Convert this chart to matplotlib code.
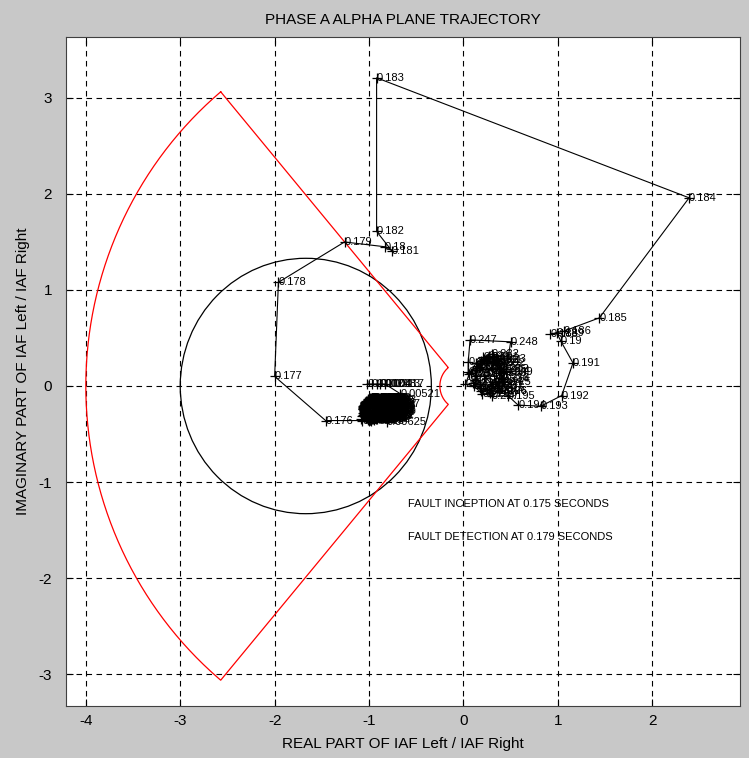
import numpy as np
import matplotlib
matplotlib.use('Agg')
import matplotlib.pyplot as plt
from matplotlib.patches import Circle

plt.rcParams['font.family'] = ['Liberation Sans', 'DejaVu Sans']
plt.rcParams['axes.unicode_minus'] = False

# sampling rate of the relay (samples per second), used for the point labels
fs = 960.0

# pre-fault samples (k = 0 .. 168)
pre_x = [-1.02, -0.97, -0.92, -0.88, -0.83, -0.67, -0.81,
         -0.97, -0.92, -0.88, -0.87, -0.90, -0.95, -1.01, -1.05, -1.05,
         -1.01, -0.96, -0.91, -0.87, -0.86, -0.89, -0.94, -1.00, -1.04,
         -1.06, -1.02, -0.97, -0.92, -0.89, -0.88, -0.92, -0.98, -1.03,
         -1.05, -1.04, -0.99, -0.94, -0.90, -0.87, -0.88, -0.93, -0.99,
         -1.04, -1.06, -1.03, -0.98, -0.93, -0.89, -0.89, -0.94, -1.00,
         -1.03, -1.02, -0.98, -0.93, -0.88, -0.86, -0.87, -0.91, -0.97,
         -1.02, -1.06, -1.05, -1.01, -0.96, -0.91, -0.89, -0.90, -0.95,
         -1.00, -1.02, -0.99, -0.95, -0.91, -0.88, -0.88, -0.92, -0.98,
         -1.03, -1.05, -1.04, -1.00, -0.95, -0.90, -0.87, -0.86, -0.89,
         -0.94, -0.99, -1.02, -1.03, -1.00, -0.96, -0.92, -0.90, -0.91,
         -0.95, -1.00, -1.03, -1.04, -1.01, -0.97, -0.92, -0.88, -0.87,
         -0.90, -0.96, -1.01, -1.05, -1.06, -1.03, -0.98, -0.93, -0.90,
         -0.89, -0.93, -0.98, -1.02, -1.03, -1.00, -0.95, -0.90, -0.87,
         -0.88, -0.93, -0.99, -1.04, -1.06, -1.04, -0.99, -0.94, -0.90,
         -0.88, -0.90, -0.95, -1.00, -1.03, -1.03, -0.99, -0.94, -0.91,
         -0.89, -0.91, -0.96, -1.01, -1.05, -1.06, -1.04, -0.99, -0.94,
         -0.90, -0.88, -0.90, -0.95, -1.01, -1.05, -1.05, -1.02, -0.97,
         -0.93, -0.92, -0.95, -1.00, -1.04, -1.06, -1.07, -1.08, -1.07]
pre_y = [0.02, 0.02, 0.02, 0.02, 0.02, -0.08, -0.37,
         -0.13, -0.15, -0.19, -0.25, -0.30, -0.33, -0.32, -0.27, -0.20,
         -0.15, -0.12, -0.14, -0.18, -0.24, -0.29, -0.32, -0.33, -0.28,
         -0.21, -0.16, -0.13, -0.16, -0.21, -0.27, -0.31, -0.34, -0.31,
         -0.25, -0.18, -0.14, -0.13, -0.17, -0.22, -0.28, -0.33, -0.35,
         -0.30, -0.23, -0.17, -0.15, -0.17, -0.23, -0.29, -0.32, -0.31,
         -0.26, -0.20, -0.16, -0.14, -0.16, -0.21, -0.27, -0.32, -0.34,
         -0.33, -0.28, -0.21, -0.15, -0.14, -0.18, -0.24, -0.30, -0.31,
         -0.29, -0.23, -0.18, -0.16, -0.19, -0.24, -0.30, -0.34, -0.36,
         -0.33, -0.26, -0.19, -0.14, -0.12, -0.15, -0.20, -0.26, -0.31,
         -0.33, -0.32, -0.27, -0.21, -0.17, -0.15, -0.18, -0.23, -0.28,
         -0.31, -0.30, -0.25, -0.19, -0.14, -0.13, -0.15, -0.20, -0.26,
         -0.31, -0.34, -0.33, -0.29, -0.22, -0.16, -0.14, -0.16, -0.21,
         -0.27, -0.30, -0.31, -0.28, -0.22, -0.17, -0.15, -0.17, -0.23,
         -0.29, -0.34, -0.35, -0.31, -0.24, -0.17, -0.13, -0.14, -0.18,
         -0.24, -0.29, -0.32, -0.32, -0.27, -0.20, -0.16, -0.16, -0.20,
         -0.25, -0.30, -0.33, -0.34, -0.30, -0.24, -0.18, -0.15, -0.15,
         -0.19, -0.25, -0.31, -0.35, -0.35, -0.31, -0.25, -0.20, -0.18,
         -0.21, -0.27, -0.31, -0.33, -0.32, -0.30, -0.31, -0.34, -0.36]

# fault trajectory (k = 169 .. 187)
fault_x = [-1.46, -2.00, -1.96, -1.26, -0.83, -0.76, -0.92, -0.92, 2.39,
           1.44, 1.06, 0.92, 0.99, 1.03, 1.16, 1.04, 0.82, 0.58, 0.47]
fault_y = [-0.36, 0.10, 1.08, 1.50, 1.45, 1.41, 1.61, 3.21, 1.96,
           0.71, 0.57, 0.54, 0.55, 0.47, 0.24, -0.10, -0.21, -0.20, -0.10]

# post-fault samples (k = 188 .. 239)
post_x = [0.38, 0.30, 0.22, 0.18, 0.22, 0.30, 0.36, 0.38, 0.33, 0.25,
          0.17, 0.12, 0.13, 0.19, 0.27, 0.34, 0.40, 0.41, 0.36, 0.28,
          0.19, 0.10, 0.08, 0.13, 0.21, 0.30, 0.37, 0.42, 0.43, 0.38,
          0.30, 0.20, 0.11, 0.02, 0.06, 0.14, 0.22, 0.31, 0.38, 0.40,
          0.35, 0.27, 0.18, 0.13, 0.16, 0.24, 0.30, 0.05, 0.05,
          0.07, 0.50, 0.45]
post_y = [-0.05, 0.02, 0.10, 0.20, 0.28, 0.30, 0.24, 0.14, 0.04, -0.03,
          -0.02, 0.06, 0.17, 0.26, 0.31, 0.27, 0.18, 0.07, -0.02, -0.07,
          -0.05, 0.03, 0.14, 0.24, 0.30, 0.33, 0.28, 0.16, 0.04, -0.05,
          -0.10, -0.08, 0.00, 0.02, 0.12, 0.21, 0.27, 0.25, 0.18, 0.08,
          0.00, -0.04, 0.02, 0.10, 0.19, 0.24, 0.18, 0.15, 0.25,
          0.48, 0.46, 0.15]

# alpha plane restraint characteristic
R_outer = 4.0
R_inner = 0.25
block_angle = 130.0

# circle
circ_center = (-1.67, 0.0)
circ_radius = 1.33

xs = np.array(pre_x + fault_x + post_x)
ys = np.array(pre_y + fault_y + post_y)
times = np.arange(len(xs)) / fs

fig = plt.figure(figsize=(7.49, 7.58), dpi=100)
fig.patch.set_facecolor('#c8c8c8')
ax = fig.add_axes([0.0881, 0.0686, 0.9, 0.8826])
ax.set_facecolor('white')

# red characteristic
a_out = np.radians(np.linspace(block_angle, 360 - block_angle, 200))
a_in = np.radians(np.linspace(360 - block_angle, block_angle, 50))
char_x = np.concatenate([R_outer * np.cos(a_out), R_inner * np.cos(a_in)])
char_y = np.concatenate([R_outer * np.sin(a_out), R_inner * np.sin(a_in)])
char_x = np.append(char_x, char_x[0])
char_y = np.append(char_y, char_y[0])
ax.plot(char_x, char_y, color='red', lw=0.9)

ax.add_patch(Circle(circ_center, circ_radius, fill=False, color='black', lw=0.9))

ax.plot(xs, ys, color='black', lw=0.8, marker='+', markersize=7, mew=0.9)
for x, y, t in zip(xs, ys, times):
    ax.text(x, y, '%.3g' % t, fontsize=8, ha='left', va='center', clip_on=True)

ax.text(-0.59, -1.23, 'FAULT INCEPTION AT 0.175 SECONDS', fontsize=8, va='center')
ax.text(-0.59, -1.57, 'FAULT DETECTION AT 0.179 SECONDS', fontsize=8, va='center')

ax.set_xlim(-4.21, 2.93)
ax.set_ylim(-3.333, 3.635)
ax.set_xticks([-4, -3, -2, -1, 0, 1, 2])
ax.set_yticks([-3, -2, -1, 0, 1, 2, 3])
ax.grid(True, color='black', linestyle=(0, (5, 4)), lw=0.8)
ax.tick_params(direction='in', length=5, top=True, right=True, labelsize=11)
ax.tick_params(axis='y', pad=10)
ax.tick_params(axis='x', pad=6)
for s in ax.spines.values():
    s.set_color('#404040')

ax.set_title('PHASE A ALPHA PLANE TRAJECTORY', fontsize=11, pad=9)
ax.set_xlabel('REAL PART OF IAF Left / IAF Right', fontsize=11, labelpad=6)
ax.set_ylabel('IMAGINARY PART OF IAF Left / IAF Right', fontsize=11, labelpad=6)

fig.savefig('out.png', dpi=100, facecolor=fig.get_facecolor())
